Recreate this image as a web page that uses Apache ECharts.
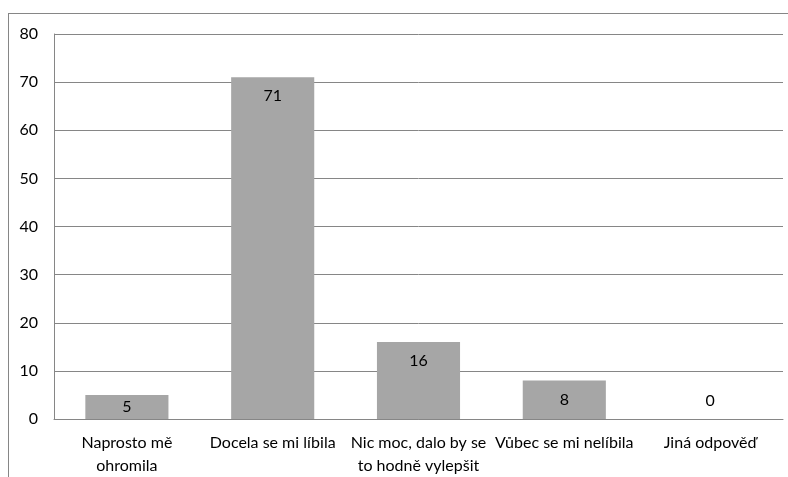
<!DOCTYPE html>
<html>
<head>
<meta charset="utf-8">
<script src="https://cdn.jsdelivr.net/npm/echarts@6/dist/echarts.min.js"></script>
<style>
html, body { margin: 0; padding: 0; background: #fff; }
#chart { width: 788px; height: 477px; }
</style>
</head>
<body>
<div id="chart"></div>
<script>
// Survey answers and counts
const categories = [
  'Naprosto mě\nohromila',
  'Docela se mi líbila',
  'Nic moc, dalo by se\nto hodně vylepšit',
  'Vůbec se mi nelíbila',
  'Jiná odpověď'
];
const counts = [5, 71, 16, 8, 0];
const yTicks = { min: 0, max: 80, interval: 10 };

const lineColor = '#868686';
const barColor = '#a6a6a6';
const textFont = 'Lato';

// Label placement: inside the top of tall bars, centred in short bars, above empty ones
function labelFor(v) {
  if (v === 0) return { position: 'top', distance: 10 };
  if (v < 7) return { position: 'inside' };
  return { position: 'insideTop', distance: 11 };
}

const chart = echarts.init(document.getElementById('chart'), null, { renderer: 'canvas' });
chart.setOption({
  animation: false,
  backgroundColor: '#fff',
  grid: { left: 54, right: 5, top: 34, bottom: 56, containLabel: false },
  graphic: [
    { type: 'line', shape: { x1: 8, y1: 13.5, x2: 788, y2: 13.5 }, style: { stroke: lineColor, lineWidth: 1 } },
    { type: 'line', shape: { x1: 8.5, y1: 13, x2: 8.5, y2: 477 }, style: { stroke: lineColor, lineWidth: 1 } }
  ],
  xAxis: {
    type: 'category',
    data: categories,
    axisLine: { show: true, lineStyle: { color: lineColor } },
    axisTick: { show: false },
    axisLabel: {
      interval: 0,
      color: '#000',
      fontFamily: textFont,
      fontSize: 16,
      lineHeight: 23,
      margin: 12
    }
  },
  yAxis: {
    type: 'value',
    min: yTicks.min,
    max: yTicks.max,
    interval: yTicks.interval,
    axisLine: { show: true, lineStyle: { color: lineColor } },
    axisTick: { show: false },
    splitLine: { show: true, lineStyle: { color: lineColor } },
    axisLabel: {
      color: '#000',
      fontFamily: textFont,
      fontSize: 16,
      margin: 16
    }
  },
  series: [{
    type: 'bar',
    barCategoryGap: '43%',
    itemStyle: { color: barColor },
    data: counts.map(v => ({ value: v, label: labelFor(v) })),
    label: {
      show: true,
      color: '#000',
      fontFamily: textFont,
      fontSize: 16
    }
  }]
});
</script>
</body>
</html>
